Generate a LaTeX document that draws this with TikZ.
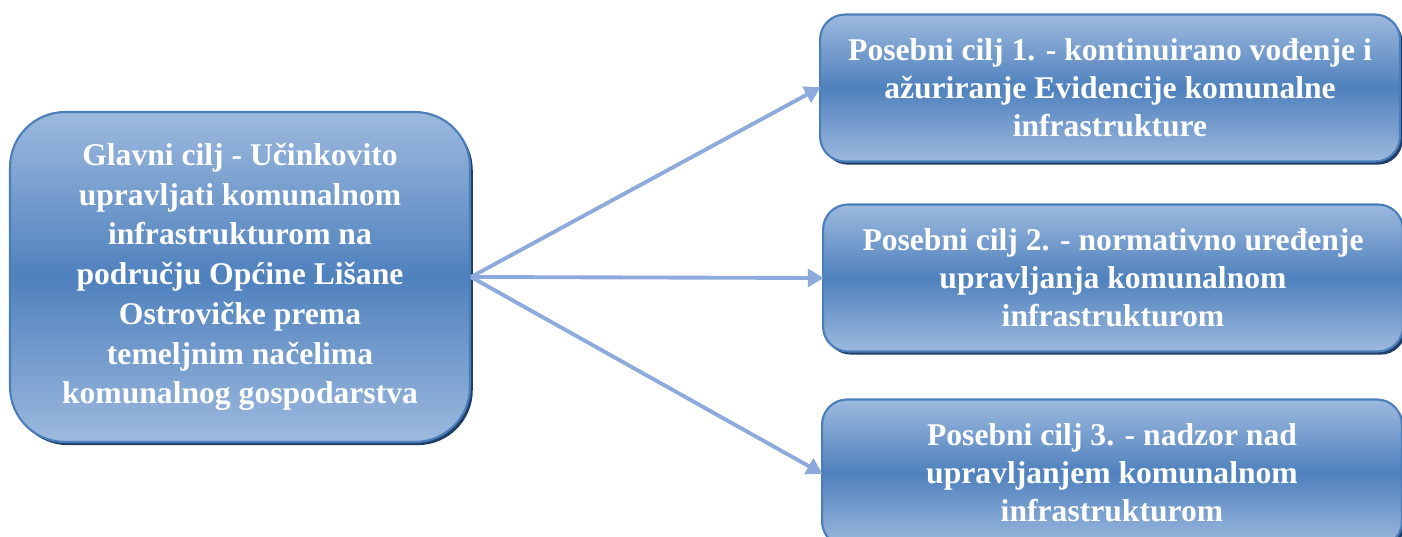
\documentclass[tikz,border=0pt]{standalone}
\usepackage{fontspec}
\setmainfont{Liberation Serif}
\usetikzlibrary{arrows.meta,shadows}

\definecolor{boxlight}{HTML}{9DB9DE}
\definecolor{boxdark}{HTML}{4F81BD}
\definecolor{boxline}{HTML}{4A7EBB}
\definecolor{boxshadow}{HTML}{1F3D66}
\definecolor{pfeil}{HTML}{8EAADC}

\tikzset{
  ziel/.style={rounded corners=#1, draw=boxline, line width=1.2pt,
    top color=boxlight, bottom color=boxlight, middle color=boxdark,
    drop shadow={shadow xshift=1.6pt, shadow yshift=-1.8pt, fill=boxshadow, opacity=1},
    text=white, font=\bfseries, align=center, inner sep=0pt},
  pfeilstil/.style={draw=pfeil, line width=2.2pt,
    -{Triangle[length=9pt,width=10pt]}, shorten >=-1pt}
}

\begin{document}
\begin{tikzpicture}[x=0.02cm, y=-0.02cm]
  \useasboundingbox (0,0) rectangle (1402,537);

  % Glavni cilj
  \node[ziel=1.1cm, minimum width=9.2cm, minimum height=6.6cm,
        font=\bfseries\fontsize{18}{22.6}\selectfont] (glavni) at (240,277)
    {Glavni cilj - Učinkovito\\ upravljati komunalnom\\ infrastrukturom na\\
     području Općine Lišane\\ Ostrovičke prema\\ temeljnim načelima\\
     komunalnog gospodarstva};

  % Posebni ciljevi
  \node[ziel=0.5cm, minimum width=11.6cm, minimum height=2.94cm,
        font=\bfseries\fontsize{18}{21.6}\selectfont] (cilj1) at (1110,88)
    {Posebni cilj 1. - kontinuirano vođenje i\\ ažuriranje Evidencije komunalne\\
     infrastrukture};
  \node[ziel=0.5cm, minimum width=11.6cm, minimum height=2.94cm,
        font=\bfseries\fontsize{18}{21.6}\selectfont] (cilj2) at (1113,278)
    {Posebni cilj 2. - normativno uređenje\\ upravljanja komunalnom\\
     infrastrukturom};
  \node[ziel=0.5cm, minimum width=11.6cm, minimum height=2.94cm,
        font=\bfseries\fontsize{18}{21.6}\selectfont] (cilj3) at (1112,473)
    {Posebni cilj 3. - nadzor nad\\ upravljanjem komunalnom\\
     infrastrukturom};

  % Pfeile
  \draw[pfeilstil] (glavni.east) -- (cilj1.west);
  \draw[pfeilstil] (glavni.east) -- (cilj2.west);
  \draw[pfeilstil] (glavni.east) -- (cilj3.west);
\end{tikzpicture}
\end{document}
